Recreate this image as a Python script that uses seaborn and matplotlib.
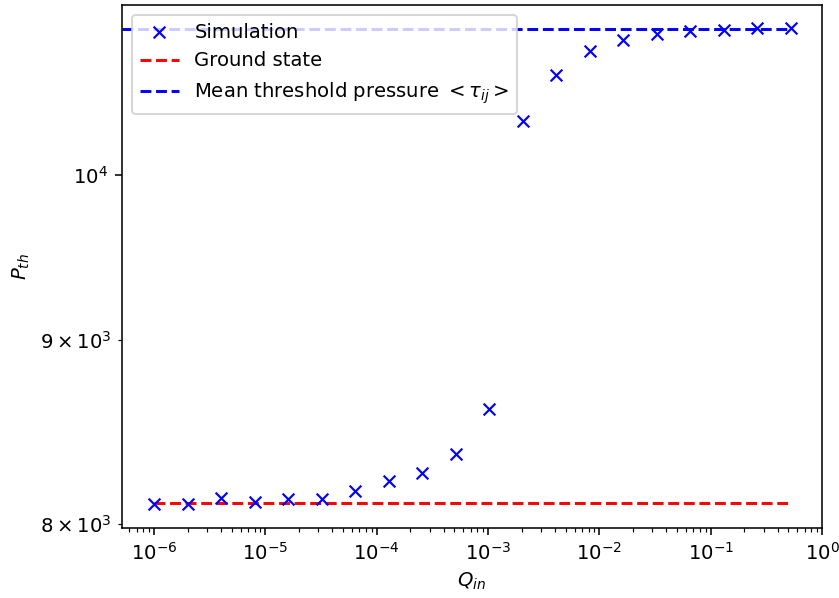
import numpy as np
import pandas as pd
import matplotlib
matplotlib.use("Agg")
import matplotlib.pyplot as plt
import seaborn as sns

# Injection rates (doubling sequence) and simulated threshold pressures
q_in = [1e-6, 2e-6, 4e-6, 8e-6, 1.6e-5, 3.2e-5, 6.4e-5, 1.28e-4, 2.56e-4,
        5.12e-4, 1.024e-3, 2.048e-3, 4.096e-3, 8.192e-3, 1.6384e-2,
        3.2768e-2, 6.5536e-2, 0.131072, 0.262144, 0.524288]
p_th = [8103, 8100, 8132, 8112, 8126, 8126, 8167, 8220, 8262, 8363, 8609,
        10352, 10667, 10828, 10905, 10950, 10967, 10975, 10988, 10988]

ground_state = 8106
mean_threshold = 10984

x_lo, x_hi = 5.16e-7, 1.0

df = pd.DataFrame({"Q": q_in, "P": p_th})
ground_df = pd.DataFrame({"Q": q_in, "P": [ground_state] * len(q_in)})
mean_df = pd.DataFrame({"Q": [x_lo, q_in[-1]], "P": [mean_threshold] * 2})

DPI = 141
fig = plt.figure(figsize=(839 / DPI, 598 / DPI), dpi=DPI)
ax = fig.add_axes([122 / 839, 1 - 527.7 / 598, 700 / 839, 522.7 / 598])

sns.scatterplot(data=df, x="Q", y="P", marker="x", color="blue", s=36,
                linewidth=1.1, label="Simulation", ax=ax, zorder=3)
sns.lineplot(data=ground_df, x="Q", y="P", color="red", linestyle="--",
             label="Ground state", ax=ax)
sns.lineplot(data=mean_df, x="Q", y="P", color="blue", linestyle="--",
             label=r"Mean threshold pressure $<\tau_{ij}>$", ax=ax)

ax.set_xscale("log")
ax.set_yscale("log")
ax.set_xlim(x_lo, x_hi)
ax.set_ylim(7979, 11153)
ax.set_xlabel(r"$Q_{in}$")
ax.set_ylabel(r"$P_{th}$")
ax.legend(loc="upper left")

fig.savefig("out.png", dpi=DPI)
